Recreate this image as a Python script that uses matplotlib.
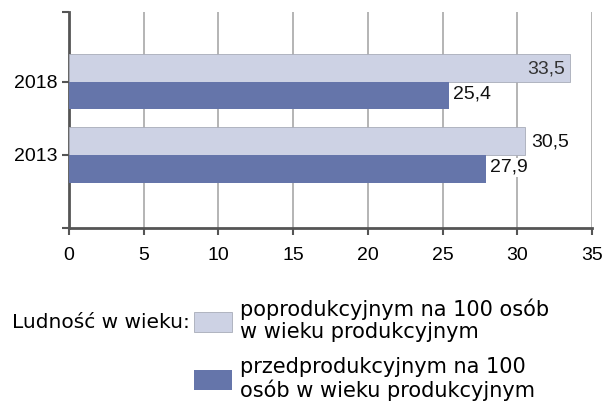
import matplotlib.pyplot as plt
from matplotlib.patches import Rectangle

plt.rcParams['font.family'] = ['Liberation Sans', 'DejaVu Sans']

years = ['2013', '2018']
poprod = [30.5, 33.5]
przedprod = [27.9, 25.4]
poprod_lbl = ['30,5', '33,5']
przedprod_lbl = ['27,9', '25,4']

c_light = '#cdd2e4'
c_dark = '#6575aa'

fig = plt.figure(figsize=(6.07, 4.07), dpi=100)
ax = fig.add_axes([69 / 607, 1 - 228 / 407, 523 / 607, 216 / 407])

pos = [1, 2]
h = 0.38
ax.barh([p + h / 2 for p in pos], poprod, height=h, color=c_light,
        edgecolor='#a8acb8', linewidth=0.6, zorder=3)
ax.barh([p - h / 2 for p in pos], przedprod, height=h, color=c_dark,
        edgecolor='none', zorder=3)

# etykiety wartosci
for p, v, s in zip(pos, poprod, poprod_lbl):
    if v > 32:
        ax.text(v - 0.3, p + h / 2 - 0.02, s, ha='right', va='center',
                fontsize=14, color='#333333', zorder=4)
    else:
        ax.text(v + 0.4, p + h / 2 - 0.02, s, ha='left', va='center',
                fontsize=14, color='#111111', zorder=4)
for p, v, s in zip(pos, przedprod, przedprod_lbl):
    ax.text(v + 0.3, p - h / 2 + 0.02, s, ha='left', va='center',
            fontsize=14, color='#111111', zorder=4,
            bbox=dict(facecolor='white', edgecolor='none', pad=0.5))

ax.set_xlim(0, 35)
ax.set_ylim(0, 2.95)
ax.set_xticks(range(0, 36, 5))
ax.set_yticks(pos)
ax.set_yticklabels(years)
ax.set_yticks([0, 2.95], minor=True)
ax.tick_params(axis='both', labelsize=14, colors='#555555', labelcolor='black',
               width=1.5, length=5)
ax.tick_params(axis='x', pad=9)
ax.tick_params(axis='y', which='minor', length=5, width=1.5, colors='#555555')
ax.grid(axis='x', color='#a8a8a8', linewidth=1.2, zorder=0)
for s in ['top', 'right']:
    ax.spines[s].set_visible(False)
for s in ['left', 'bottom']:
    ax.spines[s].set_color('#555555')
    ax.spines[s].set_linewidth(2)

# legenda
lf = ['DejaVu Sans']
fig.text(12 / 607, 1 - 322 / 407, 'Ludność w wieku:', fontsize=14.5, va='center',
         family=lf)
fig.patches.append(Rectangle((194 / 607, 1 - 332 / 407), 38 / 607, 20 / 407,
                             transform=fig.transFigure, facecolor=c_light,
                             edgecolor='#a8acb8', linewidth=0.6))
fig.patches.append(Rectangle((194 / 607, 1 - 390 / 407), 38 / 607, 20 / 407,
                             transform=fig.transFigure, facecolor=c_dark,
                             edgecolor='none'))
fig.text(240 / 607, 1 - 320 / 407, 'poprodukcyjnym na 100 osób\nw wieku produkcyjnym',
         fontsize=15, va='center', linespacing=1.15, family=lf)
fig.text(240 / 607, 1 - 379 / 407, 'przedprodukcyjnym na 100\nosób w wieku produkcyjnym',
         fontsize=15, va='center', linespacing=1.15, family=lf)

fig.savefig('out.png', dpi=100)
